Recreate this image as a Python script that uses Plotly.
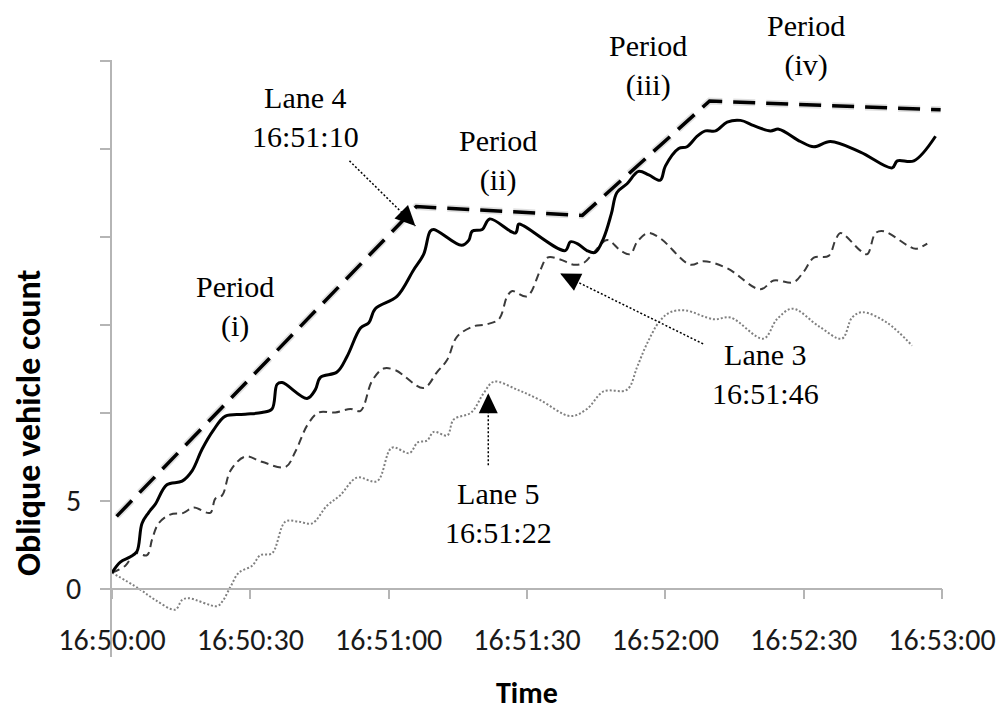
import math
import pandas as pd
import plotly.graph_objects as go

start = pd.Timestamp("2013-06-01 16:50:00")

# seconds after 16:50:00 and oblique vehicle count
lane4_sec = [0, 1.8, 4, 5.4, 6.5, 7.9, 9.4, 11.9, 15.2, 17.4,
             19.5, 22, 24.6, 28.9, 32.5, 34.7, 35.8, 36.9, 42.3, 44.1,
             45.2, 48.8, 51, 53.9, 55.7, 57.1, 61.8, 65.4, 67.6, 69,
             69.8, 75.8, 77.4, 78.1, 80.3, 81.9, 87.5, 88.2, 89.3, 98.3,
             99.4, 100.9, 103, 104.8, 106.6, 108.3, 109.5, 111.7, 114.2, 116.4,
             118.9, 120, 122.9, 124.7, 126.9, 128.7, 130.9, 133.4, 136.3, 139.2,
             142.8, 144.6, 149.3, 152.2, 155.8, 162.3, 169.2, 170.3, 173.9, 178.6]
lane4_count = [0.9, 1.5, 1.8, 2.1, 3.7, 4.3, 4.8, 5.9, 6.1, 6.7,
               7.9, 9.0, 9.8, 9.9, 10.0, 10.2, 11.6, 11.7, 10.8, 11.3,
               12.0, 12.3, 13.2, 14.8, 15.1, 15.9, 16.6, 18.1, 19.0, 20.3,
               20.4, 19.5, 19.8, 20.3, 20.4, 21.0, 20.2, 20.7, 20.6, 19.2,
               19.7, 19.6, 19.2, 19.1, 19.9, 21.3, 22.5, 23.0, 23.7, 23.5,
               23.2, 24.0, 25.0, 25.1, 25.7, 26.0, 26.0, 26.5, 26.6, 26.3,
               26.0, 26.1, 25.4, 25.1, 25.4, 24.8, 23.9, 24.3, 24.3, 25.7]

lane3_sec = [0, 2.9, 5, 7.6, 8.7, 10.1, 12.6, 15.5, 17.7, 21.3,
             22.4, 23.9, 25.7, 28.9, 32.5, 37.6, 39.8, 42.4, 44.8, 48.4,
             51.7, 53.9, 56.4, 58.9, 61.5, 67.6, 70.5, 72.7, 74.8, 78.4,
             81, 83.9, 85.7, 86.8, 90, 92.9, 94.4, 97.2, 100.1, 102.3,
             104.5, 107.4, 110.3, 112.4, 113.9, 116.2, 118.9, 125.4, 128.3, 133.4,
             140.6, 143.5, 147.8, 150, 152.2, 155.4, 156.9, 158, 162.3, 163.8,
             165.6, 167.4, 172.5, 174.3, 176.8]
lane3_count = [0.9, 1.3, 2.0, 1.9, 2.8, 3.7, 4.2, 4.3, 4.6, 4.3,
               5.1, 5.3, 6.7, 7.5, 7.2, 6.9, 7.8, 9.3, 10.0, 10.0,
               10.2, 10.1, 11.8, 12.5, 12.4, 11.4, 12.3, 13.0, 14.3, 14.9,
               15.0, 15.3, 16.6, 16.9, 16.6, 18.1, 18.8, 18.7, 18.4, 18.5,
               19.1, 19.8, 19.2, 19.0, 19.7, 20.2, 19.9, 18.4, 18.6, 18.2,
               17.0, 17.5, 17.4, 18.0, 18.8, 18.9, 19.8, 20.2, 19.2, 19.0,
               20.2, 20.3, 19.5, 19.3, 19.6]

lane5_sec = [0, 5.8, 9.4, 13.7, 15.2, 16.6, 22.8, 23.9, 25.7, 27.5,
             30.4, 32.2, 34.7, 37.6, 40.5, 43.4, 46.6, 49.5, 53.1, 57.5,
             60.7, 64.5, 66.3, 68.3, 69.8, 72.7, 74.1, 77.9, 80.6, 82.8,
             87.9, 92.9, 99.4, 103, 106.6, 111.7, 113.9, 116, 118.8, 121.1,
             124.4, 130.5, 134.1, 141.3, 144.2, 147.6, 153.3, 158.3, 160.5, 162.7,
             168.1, 173.5]
lane5_count = [0.9, 0.0, -0.65, -1.2, -0.65, -0.55, -1.0, -0.75, 0.1, 0.9,
               1.3, 1.9, 2.0, 3.8, 3.8, 3.7, 4.7, 5.3, 6.3, 6.1,
               8.0, 7.7, 8.3, 8.4, 8.9, 8.7, 9.6, 10.0, 11.1, 11.75,
               11.3, 10.7, 9.8, 10.2, 11.2, 11.3, 12.6, 13.9, 15.2, 15.7,
               15.8, 15.3, 15.4, 14.2, 15.3, 15.9, 14.9, 14.2, 15.4, 15.7,
               15.1, 13.8]

envelope_sec = [1, 66, 102, 129.6, 179.7]
envelope_count = [4.1, 21.7, 21.2, 27.7, 27.2]

x_tick_sec = [0, 30, 60, 90, 120, 150, 180]
y_tick_vals = [0, 5, 10, 15, 20, 25, 30]
y_tick_text = ["0", "5", "", "", "", "", ""]

y_min, y_max = -3.89, 30.03


def to_time(secs):
    return start + pd.to_timedelta(secs, unit="s")


def t_str(sec):
    return str(start + pd.Timedelta(seconds=sec))


serif = "Liberation Serif, Times New Roman, serif"
sans = "Carlito, Calibri, Lato, sans-serif"
axis_grey = "#b5b5b5"

fig = go.Figure()

# soft shadow under the envelope, then the envelope itself
fig.add_trace(go.Scatter(x=to_time(envelope_sec), y=envelope_count, mode="lines",
                         line=dict(color="rgba(0,0,0,0.12)", width=7, dash="22px,11px"),
                         hoverinfo="skip", showlegend=False))
fig.add_trace(go.Scatter(x=to_time(envelope_sec), y=envelope_count, mode="lines",
                         line=dict(color="black", width=3.5, dash="22px,11px"),
                         name="Envelope", showlegend=False))
fig.add_trace(go.Scatter(x=to_time(lane5_sec), y=lane5_count, mode="lines",
                         line=dict(color="#808080", width=2, dash="2px,2px", shape="spline"),
                         name="Lane 5", showlegend=False))
fig.add_trace(go.Scatter(x=to_time(lane3_sec), y=lane3_count, mode="lines",
                         line=dict(color="#3a3a3a", width=2, dash="8px,5px", shape="spline"),
                         name="Lane 3", showlegend=False))
fig.add_trace(go.Scatter(x=to_time(lane4_sec), y=lane4_count, mode="lines",
                         line=dict(color="black", width=3, shape="spline"),
                         name="Lane 4", showlegend=False))

# text labels inside the plot: (text, sec, count)
labels = [
    ("Period<br>(i)", 26.7, 16.0),
    ("Lane 4<br>16:51:10", 41.9, 26.8),
    ("Period<br>(ii)", 83.8, 24.3),
    ("Period<br>(iii)", 116.3, 29.7),
    ("Lane 3<br>16:51:46", 141.7, 12.2),
    ("Lane 5<br>16:51:22", 83.8, 4.3),
]
for text, sec, cnt in labels:
    fig.add_annotation(x=t_str(sec), y=cnt, xref="x", yref="y", text=text,
                       showarrow=False, xanchor="center", yanchor="middle",
                       font=dict(family=serif, size=30, color="black"))
# this one sits above the top of the y range
fig.add_annotation(x=t_str(150.4), y=1.025, xref="x", yref="paper", text="Period<br>(iv)",
                   showarrow=False, xanchor="center", yanchor="middle",
                   font=dict(family=serif, size=30, color="black"))

# pointer arrows: (tail sec, tail count, tip sec, tip count, heading in degrees)
arrows = [
    (51.5, 24.3, 65.8, 20.6, -45),
    (128.2, 13.9, 97.2, 17.9, 154),
    (81.6, 7.0, 81.6, 11.1, 90),
]
head_len, head_w = 20, 19
for s0, c0, s1, c1, ang in arrows:
    fig.add_shape(type="line", x0=t_str(s0), y0=c0, x1=t_str(s1), y1=c1,
                  xref="x", yref="y", line=dict(color="black", width=1.5, dash="2px,2px"))
    a = math.radians(ang)
    bx, by = -head_len * math.cos(a), -head_len * math.sin(a)
    px, py = -math.sin(a) * head_w / 2, math.cos(a) * head_w / 2
    path = "M0,0 L{:.1f},{:.1f} L{:.1f},{:.1f} Z".format(bx + px, by + py, bx - px, by - py)
    fig.add_shape(type="path", xsizemode="pixel", ysizemode="pixel",
                  xanchor=t_str(s1), yanchor=c1, xref="x", yref="y", path=path,
                  fillcolor="black", line=dict(width=0))

# axis titles
fig.add_annotation(x=-0.1012, y=9.4, xref="paper", yref="y", text="<b>Oblique vehicle count</b>",
                   textangle=-90, showarrow=False, xanchor="center", yanchor="middle",
                   font=dict(family=sans, size=34, color="black"))
fig.add_annotation(x=0.5, y=-0.060, xref="paper", yref="paper", text="<b>Time</b>",
                   showarrow=False, xanchor="center", yanchor="middle",
                   font=dict(family=sans, size=30, color="black"))

# the page body adds an 8px margin, so the figure is a little smaller than the window
fig.update_layout(
    width=997, height=705,
    margin=dict(l=104, r=63, t=52, b=56),
    plot_bgcolor="white", paper_bgcolor="white",
    showlegend=False,
)
fig.update_xaxes(
    type="date", range=[t_str(0), t_str(180)],
    tickvals=to_time(x_tick_sec), tickformat="%H:%M:%S",
    anchor="free", position=(0 - y_min) / (y_max - y_min),
    showline=True, linecolor=axis_grey, linewidth=1.5,
    ticks="outside", ticklen=10, tickcolor=axis_grey, tickwidth=1.5,
    showgrid=False, zeroline=False, ticklabelstandoff=15, automargin=False,
    tickfont=dict(family=sans, size=30, color="#1a1a1a"),
)
fig.update_yaxes(
    range=[y_min, y_max], tickvals=y_tick_vals, ticktext=y_tick_text,
    showline=True, linecolor=axis_grey, linewidth=1.5,
    ticks="outside", ticklen=10, tickcolor=axis_grey, tickwidth=1.5,
    showgrid=False, zeroline=False, ticklabelstandoff=13, automargin=False,
    tickfont=dict(family=sans, size=30, color="#1a1a1a"),
)

fig.write_html("out.html")
